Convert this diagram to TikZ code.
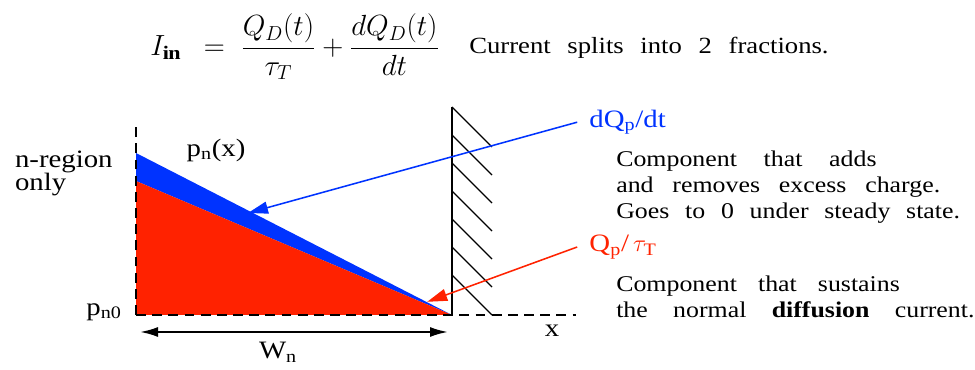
\documentclass[tikz,border=0pt]{standalone}
\usepackage{amsmath}
\usepackage{fontspec}
\setmainfont[FakeStretch=1.15, WordSpace=2.5]{Liberation Serif}
\usepackage{xcolor}
\usepackage{tikz}
\usetikzlibrary{arrows.meta, positioning}
\definecolor{bandblue}{RGB}{0,51,255}
\definecolor{chargered}{RGB}{255,34,0}

\begin{document}
\begin{tikzpicture}[
        txt/.style={font=\fontsize{17.8}{21}\selectfont, inner sep=2pt},
        note/.style={font=\fontsize{16}{18.5}\selectfont, align=left, anchor=west, inner sep=0pt},
        tag/.style={txt, anchor=west, inner sep=0pt, inner xsep=0.3cm},
        axis/.style={line width=1.6pt, dash pattern=on 7pt off 4.5pt},
        pointer/.style={-{Triangle[length=0.5cm, width=0.3cm]}, line width=1.1pt},
        hatch/.style={line width=0.9pt},
        wdim/.style={{Latex[length=0.45cm, width=0.25cm]}-{Latex[length=0.45cm, width=0.25cm]}, line width=1.5pt}
    ]
        \useasboundingbox (-3.4,-1.375) rectangle (20.975,7.875);

        % Equation
        \node[font=\fontsize{19.5}{24}\selectfont] (eq) at (3.97,6.7) {$\displaystyle I_{\mathbf{in}}\;\;=\;\frac{Q_D(t)}{\tau_T}+\frac{dQ_D(t)}{dt}$};
        \node[note, font=\fontsize{16.5}{20}\selectfont] (split) at (8.325,6.675) {Current splits into 2 fractions.};

        % Charge profile
        \coordinate (o) at (0,0);
        \coordinate (apex) at (7.9,0);
        \fill[bandblue] (0,4.05) -- (apex) -- (0,3.35) -- cycle;
        \fill[chargered] (0,3.35) -- (apex) -- (o) -- cycle;
        \draw[axis] (o) -- (0,4.8);
        \draw[axis] (o) -- (11,0);

        % Wall
        \draw[line width=1.2pt] (apex) -- (7.9,5.2);
        \foreach \y in {1.0,1.7,...,5.2}
            \draw[hatch] (7.9,\y) -- ++(1,-1);

        % Axis labels
        \node[txt, align=left, anchor=west, font=\fontsize{17.8}{16.3}\selectfont] (nreg) at (-3.1,3.55) {n-region\\only};
        \node[txt] (pnx) at (2.0,4.125) {p\textsubscript{n}(x)};
        \node[txt, anchor=east] (pn0) at (-0.28,0.075) {p\textsubscript{n0}};
        \node[txt] (xlab) at (10.4,-0.4) {x};

        % Width
        \coordinate (wl) at (0.1,-0.425);
        \coordinate (wr) at (7.8,-0.425);
        \draw[wdim] (wl) -- (wr);
        \node[txt] (wn) at (3.55,-0.925) {W\textsubscript{n}};

        % Components
        \node[tag, text=bandblue] (dqdt) at (11.03,4.82) {dQ\textsubscript{p}/dt};
        \node[note] (adds) at (12.0,3.2) {{\spaceskip=19pt Component that adds}\\{\spaceskip=13.4pt and removes excess charge.}\\{\spaceskip=11.2pt Goes to 0 under steady state.}};
        \node[tag, text=chargered] (qtau) at (11.03,1.7) {Q\textsubscript{p}/\,$\tau_{\mathrm{T}}$};
        \node[note] (sustain) at (12.0,0.45) {{\spaceskip=15pt Component that sustains}\\{\spaceskip=18pt the normal \textbf{diffusion} current.}};

        % Pointers
        \coordinate (bandpt) at (2.8,2.55);
        \coordinate (tippt) at (7.28,0.33);
        \draw[pointer, bandblue] (dqdt.west) -- (bandpt);
        \draw[pointer, chargered] (qtau.west) -- (tippt);
\end{tikzpicture}
\end{document}
